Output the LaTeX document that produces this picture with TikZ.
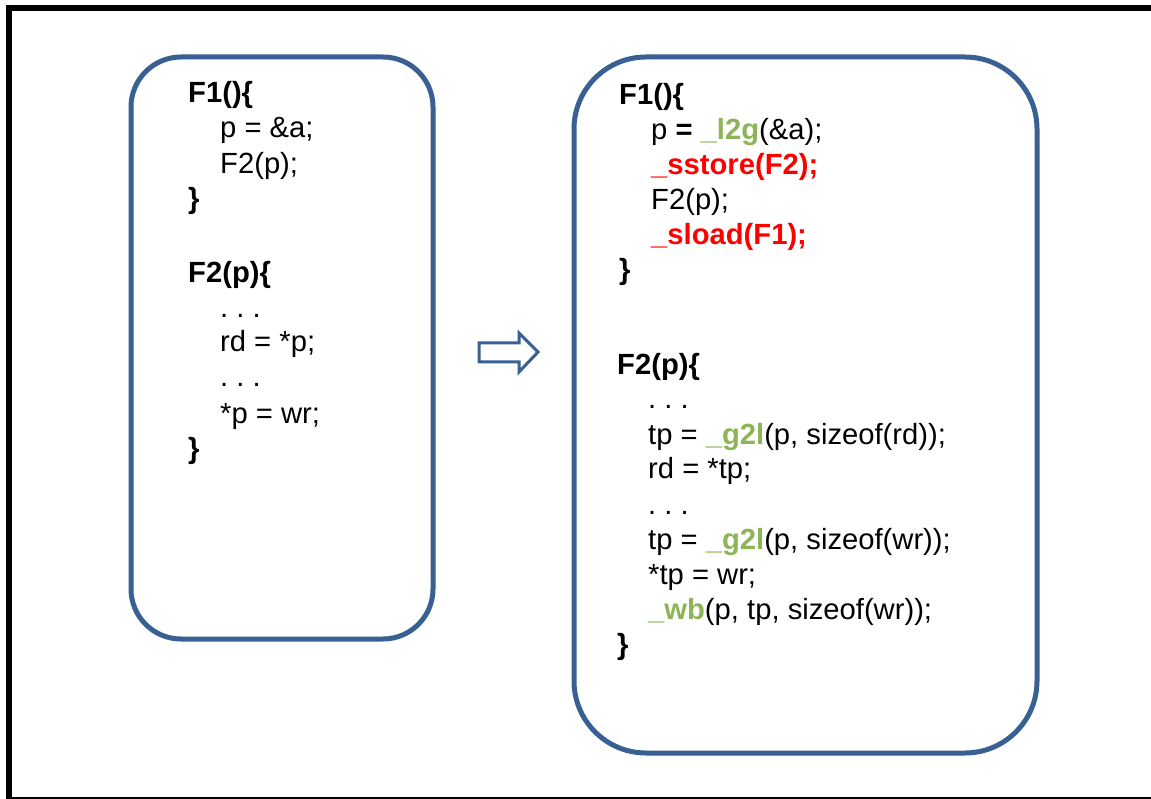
\documentclass[tikz,border=0pt]{standalone}
\usepackage{fontspec}
\setmainfont{Liberation Sans}
\definecolor{boxblue}{RGB}{56,96,146}
\definecolor{fgreen}{RGB}{141,180,86}
\definecolor{fred}{RGB}{255,0,0}
\newcommand{\gr}[1]{\textcolor{fgreen}{\textbf{#1}}}
\newcommand{\rd}[1]{\textcolor{fred}{\textbf{#1}}}
\begin{document}
\begin{tikzpicture}[x=1pt,y=-1pt,
  code/.style={anchor=base west, inner sep=0pt, font=\fontsize{29.2}{34}\selectfont},
  codeb/.style={code, font=\fontsize{29.2}{34}\selectfont\bfseries},
  box/.style={draw=boxblue, line width=5pt, rounded corners=#1, inner sep=0pt},
]
\useasboundingbox (0,0) rectangle (1151,799);
\fill[white] (0,0) rectangle (1151,799);
% frame
\draw[line width=6pt] (9,799) -- (9,8) -- (1151,8);
\draw[line width=1.5pt] (6,798) -- (1151,798);

% boxes
\node[box=50pt, minimum width=302pt, minimum height=582pt] (left) at (282,348) {};
\node[box=72pt, minimum width=463pt, minimum height=696pt] (right) at (805.5,405) {};

% left code
\node[codeb] (a1) at (188,103) {F1()\{};
\node[code]  (a2) at (220,138) {p = \&a;};
\node[code]  (a3) at (220,174) {F2(p);};
\node[codeb] (a4) at (188,209) {\}};
\node[codeb] (a5) at (188,283) {F2(p)\{};
\node[code]  (a6) at (220,318) {.\ .\ .};
\node[code]  (a7) at (220,352) {rd = *p;};
\node[code]  (a8) at (220,387) {.\ .\ .};
\node[code]  (a9) at (220,423) {*p = wr;};
\node[codeb] (a10) at (188,458) {\}};

% arrow
\draw[boxblue, line width=3pt, line join=miter]
  (479,343) -- (519,343) -- (519,333) -- (538,352) -- (519,372) -- (519,362) -- (479,362) -- cycle;

% right code
\node[codeb] (b1) at (619,105) {F1()\{};
\node[code]  (b2) at (651,140) {p \textbf{=} \gr{\_l2g}(\&a);};
\node[code]  (b3) at (651,175) {\rd{\_sstore(F2);}};
\node[code]  (b4) at (651,210) {F2(p);};
\node[code]  (b5) at (651,245) {\rd{\_sload(F1);}};
\node[codeb] (b6) at (619,280) {\}};
\node[codeb] (b7) at (617,375) {F2(p)\{};
\node[code]  (b8) at (648,409) {.\ .\ .};
\node[code]  (b9) at (648,444) {tp = \gr{\_g2l}(p, sizeof(rd));};
\node[code]  (b10) at (648,478) {rd = *tp;};
\node[code]  (b11) at (648,514) {.\ .\ .};
\node[code]  (b12) at (648,549) {tp = \gr{\_g2l}(p, sizeof(wr));};
\node[code]  (b13) at (648,584) {*tp = wr;};
\node[code]  (b14) at (648,619) {\gr{\_wb}(p, tp, sizeof(wr));};
\node[codeb] (b15) at (617,654) {\}};
\end{tikzpicture}
\end{document}
